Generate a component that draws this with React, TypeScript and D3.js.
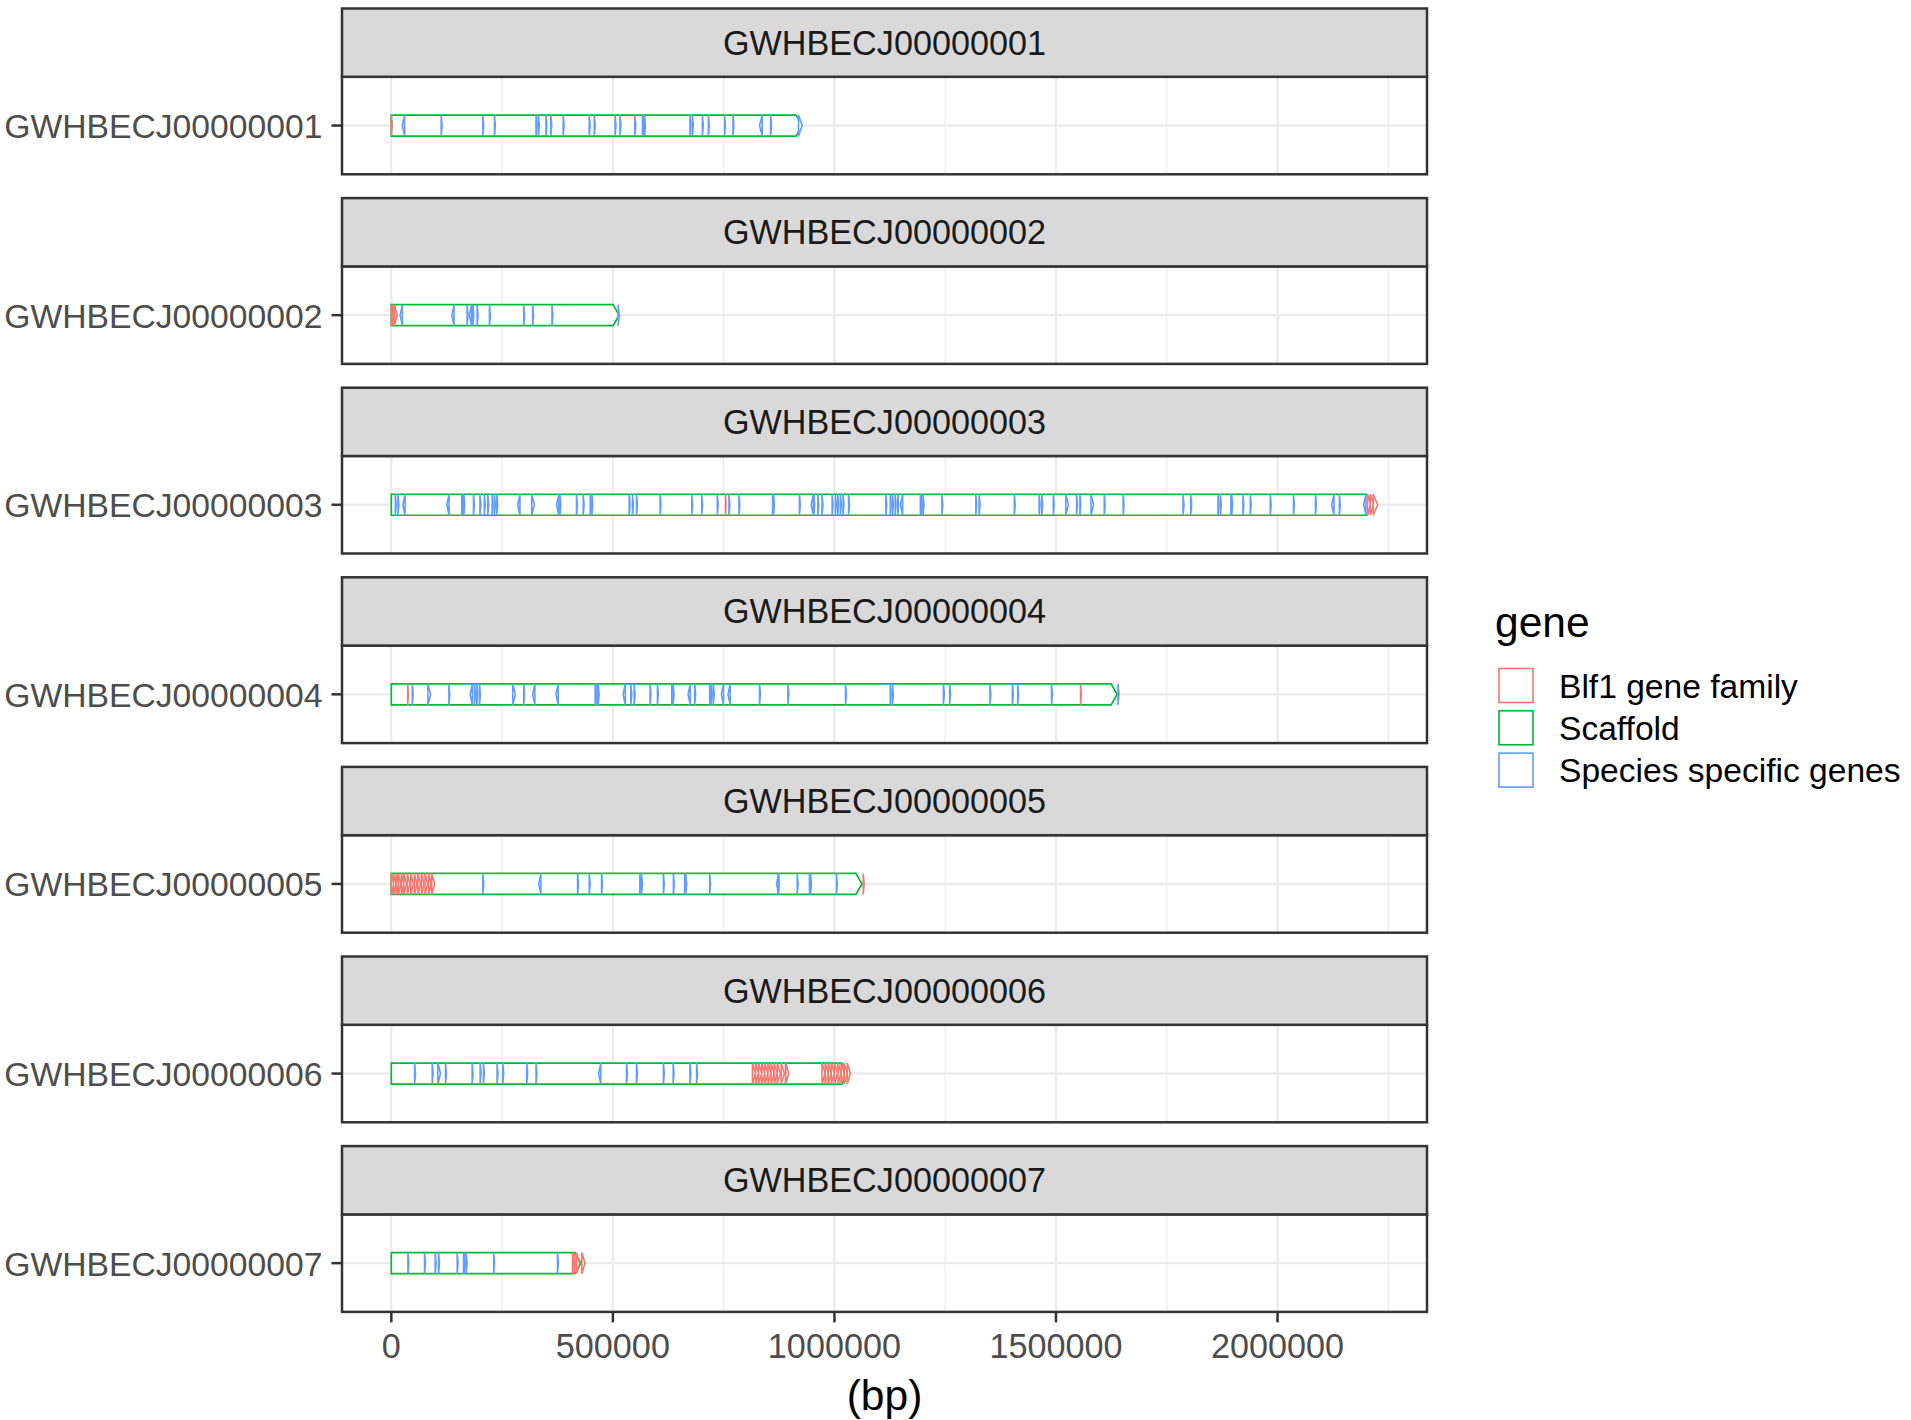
import React from "react";
import * as d3 from "d3";

const W = 1911;
const H = 1420;

const chromosomes = [
  "GWHBECJ00000001",
  "GWHBECJ00000002",
  "GWHBECJ00000003",
  "GWHBECJ00000004",
  "GWHBECJ00000005",
  "GWHBECJ00000006",
  "GWHBECJ00000007",
];

// scaffold lengths (bp)
const scaffoldLengths = [927000, 514000, 2215000, 1638000, 1062000, 1030000, 428000];

// Blf1 gene family genes [start, end] (start > end means reverse strand)
const blf1Genes1 = [[0, 2000]];
const blf1Genes2 = [[0, 5000], [3500, 9000], [7000, 13000]];
const blf1Genes3 = [[754000, 755500], [2203000, 2210000], [2209000, 2217000], [2216000, 2226000]];
const blf1Genes4 = [[37000, 38500], [1555500, 1557000]];
const blf1Genes5 = [
  [0, 6000], [5000, 11000], [11000, 17000], [16000, 22000], [23000, 29000], [28000, 34000],
  [36000, 42000], [44000, 50000], [52000, 58000], [60000, 66000], [68000, 74000],
  [76000, 82000], [84000, 90000], [91000, 98000], [1065000, 1067000],
];
const blf1Genes6 = [
  [815000, 822000], [822000, 829000], [829000, 836000], [836000, 843000], [843000, 850000],
  [850000, 857000], [857000, 864000], [864000, 871000], [871000, 878000], [880000, 887000],
  [890000, 897000],
  [972000, 979000], [979000, 986000], [986000, 993000], [993000, 1000000], [1000000, 1007000],
  [1008000, 1015000], [1015000, 1022000], [1022000, 1029000], [1029000, 1036000],
];
const blf1Genes7 = [[409000, 411000], [413000, 415000], [418000, 425000], [430000, 437000]];

// Species specific genes [start, end]
const speciesGenes1 = [
  [30000, 24800], [112600, 114600], [206500, 208500], [232700, 234700], [326600, 328600],
  [331800, 333800], [349000, 351000], [360000, 362000], [388000, 390000], [446700, 448700],
  [458000, 460000], [505000, 507000], [516000, 518000], [549500, 551500], [566800, 568800],
  [569500, 571500], [571500, 573500], [674000, 676000], [679500, 681500], [702000, 704000],
  [715500, 717500], [752000, 754000], [771000, 773000], [837000, 831000], [856000, 858000],
  [919000, 927000],
];
const speciesGenes2 = [
  [25000, 20000], [141600, 136600], [171000, 173000], [181000, 176000], [184000, 186000],
  [193700, 195700], [221500, 223500], [298800, 300800], [319000, 321000], [362600, 364600],
  [512000, 514000],
];
const speciesGenes3 = [
  [9000, 11000], [15000, 17000], [31000, 26000], [130400, 125400], [159000, 161000],
  [161000, 163000], [163700, 165700], [185400, 187400], [200000, 202000], [210000, 212000],
  [217700, 219700], [227500, 229500], [232700, 234700], [238000, 240000], [290300, 285300],
  [316800, 322800], [378000, 373000], [380600, 382600], [418000, 420000], [433000, 435000],
  [449000, 451000], [452700, 454700], [536800, 538800], [544300, 546300], [553300, 555300],
  [606600, 608600], [678000, 680000], [700500, 702500], [735700, 737700], [762000, 764000],
  [784500, 786500], [860500, 862500], [862500, 864500], [921000, 923000], [952500, 947500],
  [953500, 955500], [962500, 964500], [972000, 974000], [994800, 996800], [1002000, 1004000],
  [1007500, 1009500], [1013500, 1015500], [1019500, 1021500], [1032000, 1034000],
  [1116000, 1118000], [1126000, 1128000], [1131000, 1133000], [1137000, 1139000],
  [1143000, 1145000], [1154000, 1149000], [1194000, 1196000], [1196000, 1198000],
  [1200000, 1202000], [1242500, 1244500], [1319000, 1321000], [1326600, 1328600],
  [1406000, 1408000], [1462000, 1464000], [1468000, 1470000], [1494000, 1496000],
  [1522000, 1528000], [1546500, 1548500], [1554000, 1556000], [1579000, 1585000],
  [1609000, 1611000], [1651600, 1653600], [1786800, 1788800], [1804000, 1806000],
  [1865600, 1867600], [1871000, 1873000], [1894600, 1896600], [1896600, 1898600],
  [1922000, 1924000], [1938500, 1940500], [1983500, 1985500], [2036000, 2038000],
  [2085600, 2087600], [2127400, 2122400], [2139600, 2141600], [2199500, 2194500],
];
const speciesGenes4 = [
  [47300, 49300], [82600, 88600], [129900, 131900], [182900, 177900], [187700, 189700],
  [193000, 195000], [199000, 201000], [274000, 280000], [298800, 300800], [324000, 319000],
  [376600, 371600], [460000, 462000], [464000, 466000], [467000, 469000], [528000, 523000],
  [540500, 542500], [548000, 550000], [584000, 586000], [600600, 602600], [633000, 635000],
  [636000, 638000], [674700, 669700], [684700, 686700], [718500, 720500], [722000, 724000],
  [726700, 728700], [749800, 744800], [764800, 759800], [831000, 833000], [895000, 897000],
  [1025000, 1027000], [1126000, 1128000], [1131000, 1133000], [1246000, 1248000],
  [1260000, 1262000], [1351000, 1353000], [1401600, 1403600], [1413600, 1415600],
  [1490000, 1492000], [1640000, 1642000],
];
const speciesGenes5 = [
  [206500, 208500], [337600, 332600], [420400, 422400], [446700, 448700], [474500, 476500],
  [560800, 562800], [564600, 566600], [614000, 616000], [636600, 638600], [662000, 664000],
  [664400, 666400], [718500, 720500], [874400, 869400], [873000, 875000], [916000, 918000],
  [943700, 945700], [946000, 948000], [1004500, 1006500],
];
const speciesGenes6 = [
  [52600, 54600], [92300, 94300], [105000, 111000], [122400, 124400], [182400, 184400],
  [200500, 202500], [208000, 210000], [238700, 240700], [251500, 253500], [305600, 307600],
  [326600, 328600], [472700, 467700], [530800, 532800], [553300, 555300], [614000, 616000],
  [636000, 638000], [674000, 676000], [689000, 691000], [889600, 891600],
];
const speciesGenes7 = [
  [37500, 39500], [75000, 77000], [99000, 101000], [106600, 108600], [148600, 150600],
  [163000, 165000], [165000, 167000], [169000, 171000], [231000, 233000], [375000, 377000],
];

const blf1Genes = [blf1Genes1, blf1Genes2, blf1Genes3, blf1Genes4, blf1Genes5, blf1Genes6, blf1Genes7];
const speciesGenes = [speciesGenes1, speciesGenes2, speciesGenes3, speciesGenes4, speciesGenes5, speciesGenes6, speciesGenes7];

const xTicks = [0, 500000, 1000000, 1500000, 2000000];
const xMinorTicks = [250000, 750000, 1250000, 1750000, 2250000];

const legendLabels = ["Blf1 gene family", "Scaffold", "Species specific genes"];
const legendColors = ["#F8766D", "#00BA38", "#619CFF"];

const FONT = "'Liberation Sans', Arial, Helvetica, sans-serif";

function arrowPath(x1: number, x2: number, yc: number, h: number, headW: number) {
  const forward = x2 >= x1;
  const len = Math.abs(x2 - x1);
  const hw = Math.min(headW, len);
  const flange = forward ? x2 - hw : x2 + hw;
  return `M${x1},${yc - h / 2}L${flange},${yc - h / 2}L${x2},${yc}L${flange},${yc + h / 2}L${x1},${yc + h / 2}Z`;
}

export default function App() {
  const panelLeft = 342;
  const panelRight = 1427;
  const stripTop0 = 8.5;
  const pitch = 189.6;
  const stripH = 68.3;
  const bodyH = 97.5;
  const bodyHeight = 21;
  const headW = 6;
  const fs = 34.2;
  const yfs = 33.7;

  const allEnds: number[] = [];
  scaffoldLengths.forEach((l) => allEnds.push(l));
  blf1Genes.forEach((g) => g.forEach((d) => allEnds.push(d[0], d[1])));
  speciesGenes.forEach((g) => g.forEach((d) => allEnds.push(d[0], d[1])));
  const dMin = 0;
  const dMax = d3.max(allEnds) as number;
  const span = dMax - dMin;
  const x = d3
    .scaleLinear()
    .domain([dMin - 0.05 * span, dMax + 0.05 * span])
    .range([panelLeft, panelRight]);

  const panels = chromosomes.map((name, i) => {
    const stripTop = stripTop0 + i * pitch;
    const bodyTop = stripTop + stripH;
    const yc = bodyTop + bodyH / 2;
    return (
      <g key={name}>
        <rect x={panelLeft} y={bodyTop} width={panelRight - panelLeft} height={bodyH} fill="#FFFFFF" />
        {xMinorTicks.map((t) => (
          <line key={"mi" + t} x1={x(t)} x2={x(t)} y1={bodyTop} y2={bodyTop + bodyH} stroke="#EBEBEB" strokeWidth={1.2} />
        ))}
        {xTicks.map((t) => (
          <line key={"ma" + t} x1={x(t)} x2={x(t)} y1={bodyTop} y2={bodyTop + bodyH} stroke="#EBEBEB" strokeWidth={2.4} />
        ))}
        <line x1={panelLeft} x2={panelRight} y1={yc} y2={yc} stroke="#EBEBEB" strokeWidth={2.4} />
        <path d={arrowPath(x(0), x(scaffoldLengths[i]), yc, bodyHeight, headW)} fill="#FFFFFF" stroke={legendColors[1]} strokeWidth={1.7} strokeLinejoin="miter" />
        {speciesGenes[i].map((g, j) => (
          <path key={"s" + j} d={arrowPath(x(g[0]), x(g[1]), yc, bodyHeight, headW)} fill="#FFFFFF" stroke={legendColors[2]} strokeWidth={1.6} />
        ))}
        {blf1Genes[i].map((g, j) => (
          <path key={"b" + j} d={arrowPath(x(g[0]), x(g[1]), yc, bodyHeight, headW)} fill="#FFFFFF" stroke={legendColors[0]} strokeWidth={1.6} />
        ))}
        <rect x={panelLeft} y={bodyTop} width={panelRight - panelLeft} height={bodyH} fill="none" stroke="#333333" strokeWidth={2.5} />
        <rect x={panelLeft} y={stripTop} width={panelRight - panelLeft} height={stripH} fill="#D9D9D9" stroke="#333333" strokeWidth={2.5} />
        <text x={(panelLeft + panelRight) / 2} y={stripTop + stripH / 2 + 12} textAnchor="middle" fontSize={fs} fill="#1A1A1A" fontFamily={FONT}>
          {name}
        </text>
        <line x1={panelLeft - 10.5} x2={panelLeft} y1={yc} y2={yc} stroke="#333333" strokeWidth={2.5} />
        <text x={panelLeft - 19.5} y={yc + 12.5} textAnchor="end" fontSize={yfs} fill="#4D4D4D" fontFamily={FONT}>
          {name}
        </text>
      </g>
    );
  });

  const lastBottom = stripTop0 + 6 * pitch + stripH + bodyH;

  return (
    <svg width={W} height={H} style={{ position: "absolute", left: 0, top: 0, background: "#FFFFFF" }} xmlns="http://www.w3.org/2000/svg">
      <rect x={0} y={0} width={W} height={H} fill="#FFFFFF" />
      {panels}
      {xTicks.map((t) => (
        <g key={"xt" + t}>
          <line x1={x(t)} x2={x(t)} y1={lastBottom} y2={lastBottom + 10.5} stroke="#333333" strokeWidth={2.5} />
          <text x={x(t)} y={lastBottom + 46.5} textAnchor="middle" fontSize={fs} fill="#4D4D4D" fontFamily={FONT}>
            {String(t)}
          </text>
        </g>
      ))}
      <text x={(panelLeft + panelRight) / 2} y={1410} textAnchor="middle" fontSize={42.5} fill="#000000" fontFamily={FONT}>
        (bp)
      </text>
      <text x={1495} y={637} fontSize={42.5} fill="#000000" fontFamily={FONT}>
        gene
      </text>
      {legendLabels.map((lab, i) => (
        <g key={lab}>
          <rect x={1499} y={668.5 + i * 42.3} width={34} height={34} fill="#FFFFFF" stroke={legendColors[i]} strokeWidth={1.6} />
          <text x={1559} y={668.5 + i * 42.3 + 17 + 12} fontSize={33.6} fill="#000000" fontFamily={FONT}>
            {lab}
          </text>
        </g>
      ))}
    </svg>
  );
}
